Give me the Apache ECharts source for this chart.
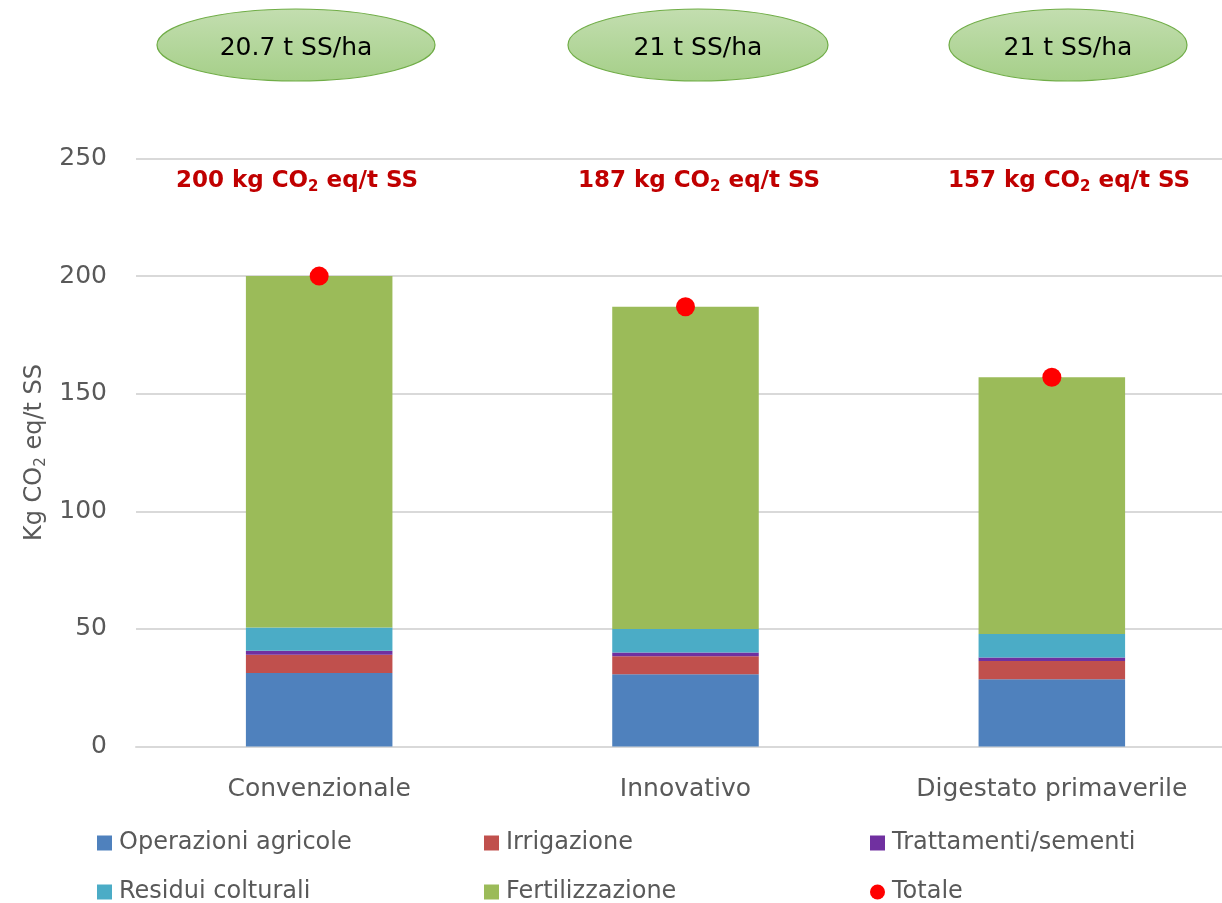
<!DOCTYPE html>
<html>
<head>
<meta charset="utf-8">
<style>
  html, body { margin: 0; padding: 0; background: #ffffff; overflow: hidden; }
  #wrap { width: 1222px; height: 903px; overflow: hidden; }
  /* the plot extends a little past the right edge of the page */
  #chart { width: 1235px; height: 903px; }
</style>
<script src="https://cdn.jsdelivr.net/npm/echarts@6/dist/echarts.min.js"></script>
</head>
<body>
<div id="wrap"><div id="chart"></div></div>
<script>
// Emission breakdown per scenario (kg CO2 eq / t SS)
const categories = ['Convenzionale', 'Innovativo', 'Digestato primaverile'];
const operazioniAgricole = [31.2, 30.7, 28.6];
const irrigazione = [7.8, 7.7, 7.7];
const trattamentiSementi = [1.7, 1.6, 1.5];
const residuiColturali = [9.9, 10.0, 10.0];
const fertilizzazione = [149.4, 137.0, 109.2];
const totale = [200, 187, 157];
// Yield per scenario (t SS/ha)
const resa = ['20.7', '21', '21'];
const yTicks = [0, 50, 100, 150, 200, 250];

const FONT = '"DejaVu Sans", sans-serif';
const GREY = '#595959';

const chart = echarts.init(document.getElementById('chart'), null, { renderer: 'canvas' });

function barSeries(name, data, color) {
  return {
    name: name,
    type: 'bar',
    stack: 'tot',
    data: data,
    barWidth: '40%',
    itemStyle: { color: color },
    emphasis: { disabled: true }
  };
}

// Header annotations: yield ellipses and total labels above each scenario
const headerX = [296, 698, 1068];
const ellipseRx = [139, 130, 119];
const graphics = [];
categories.forEach(function (c, i) {
  graphics.push({
    type: 'ellipse',
    shape: { cx: headerX[i], cy: 45, rx: ellipseRx[i], ry: 36 },
    style: {
      fill: new echarts.graphic.LinearGradient(0, 0, 0, 1, [
        { offset: 0, color: '#c3deb0' },
        { offset: 1, color: '#a5cf88' }
      ]),
      stroke: '#70ad47',
      lineWidth: 1.2
    },
    z: 10
  });
  graphics.push({
    type: 'text',
    x: headerX[i],
    y: 48,
    style: {
      text: resa[i] + ' t SS/ha',
      fill: '#000000',
      font: '25px ' + FONT,
      align: 'center',
      verticalAlign: 'middle'
    },
    z: 11
  });
  graphics.push({
    type: 'text',
    x: headerX[i] + 1,
    y: 181,
    style: {
      text: '{b|' + totale[i] + ' kg CO}{s|2}{b| eq/t SS}',
      align: 'center',
      verticalAlign: 'middle',
      rich: {
        b: { fontFamily: FONT, fontWeight: 'bold', fontSize: 23, fill: '#c00000' },
        s: { fontFamily: FONT, fontWeight: 'bold', fontSize: 15, fill: '#c00000', padding: [12, 0, 0, 0] }
      }
    },
    z: 11
  });
});

// One legend per entry so the entries sit on a 3 x 2 layout
function legendItem(name, left, top, icon) {
  return {
    left: left,
    top: top,
    itemWidth: 15,
    itemHeight: 15,
    icon: icon || 'rect',
    data: [name],
    textStyle: { fontFamily: FONT, fontSize: 24, color: GREY, padding: [0, 0, 0, 2] },
    selectedMode: false
  };
}

const option = {
  animation: false,
  backgroundColor: '#ffffff',
  textStyle: { fontFamily: FONT },
  grid: { left: 136, top: 158.5, right: 0, bottom: 156.5, containLabel: false },
  legend: [
    legendItem('Operazioni agricole', 92, 826),
    legendItem('Irrigazione', 479, 826),
    legendItem('Trattamenti/sementi', 865, 826),
    legendItem('Residui colturali', 92, 875),
    legendItem('Fertilizzazione', 479, 875),
    legendItem('Totale', 865, 875, 'circle')
  ],
  xAxis: {
    type: 'category',
    data: categories,
    axisTick: { show: false },
    axisLine: { lineStyle: { color: '#d9d9d9', width: 2 } },
    axisLabel: { fontFamily: FONT, fontSize: 25, color: GREY, margin: 30 }
  },
  yAxis: {
    type: 'value',
    min: yTicks[0],
    max: yTicks[yTicks.length - 1],
    interval: 50,
    name: '{n|Kg CO}{s|2}{n| eq/t SS}',
    nameLocation: 'middle',
    nameRotate: 90,
    nameGap: 86,
    nameTextStyle: {
      rich: {
        n: { fontFamily: FONT, fontSize: 24, color: GREY },
        s: { fontFamily: FONT, fontSize: 15, color: GREY, padding: [12, 0, 0, 0] }
      }
    },
    axisLine: { show: false },
    axisTick: { show: false },
    axisLabel: { fontFamily: FONT, fontSize: 25, color: GREY, margin: 29 },
    splitLine: { lineStyle: { color: '#d9d9d9', width: 2 } }
  },
  series: [
    barSeries('Operazioni agricole', operazioniAgricole, '#4f81bd'),
    barSeries('Irrigazione', irrigazione, '#c0504d'),
    barSeries('Trattamenti/sementi', trattamentiSementi, '#7030a0'),
    barSeries('Residui colturali', residuiColturali, '#4bacc6'),
    barSeries('Fertilizzazione', fertilizzazione, '#9bbb59'),
    {
      name: 'Totale',
      type: 'scatter',
      data: totale,
      symbol: 'circle',
      symbolSize: 19,
      itemStyle: { color: '#ff0000', opacity: 1 },
      z: 5,
      emphasis: { disabled: true }
    }
  ],
  graphic: graphics
};

chart.setOption(option);
</script>
</body>
</html>
